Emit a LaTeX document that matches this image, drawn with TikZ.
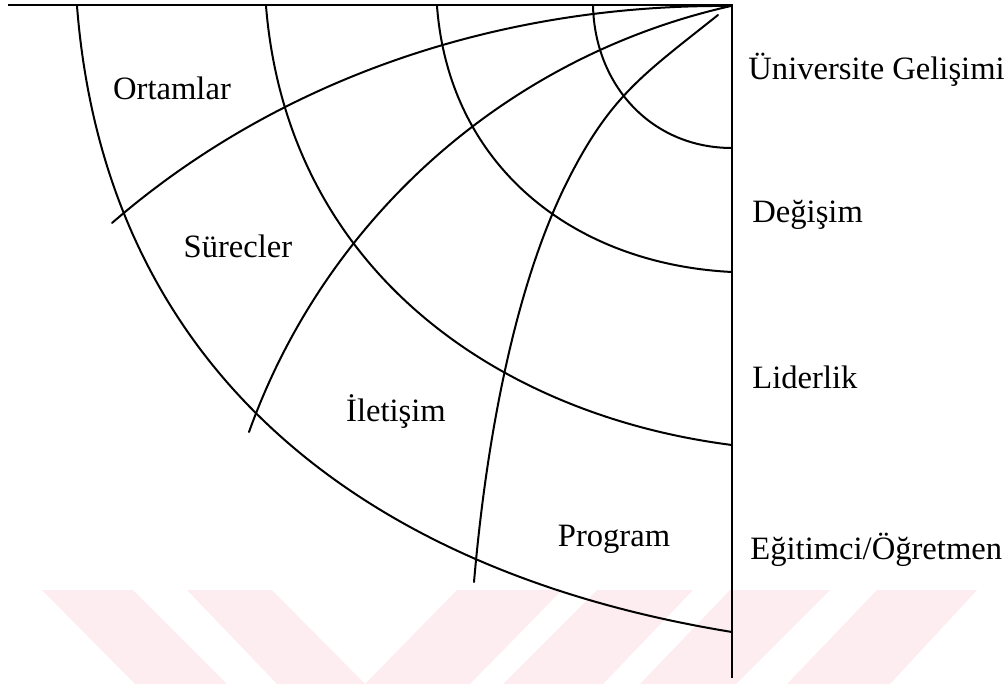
\documentclass[tikz,border=0pt]{standalone}
\usepackage{fontspec}
\setmainfont{Liberation Serif}
\definecolor{wmpink}{RGB}{253,236,240}
\begin{document}
\begin{tikzpicture}[x=0.5pt,y=-0.5pt]
\useasboundingbox (0,0) rectangle (1004,684);
\tikzstyle{stripe} = [fill=wmpink,draw=none]
\tikzstyle{ringline} = [line width=1pt,line cap=round]
\tikzstyle{spokeline} = [line width=1pt,line cap=round]
\tikzstyle{frameline} = [line width=1.3pt]
\tikzstyle{sectortext} = [anchor=base,inner sep=0pt,font=\fontsize{16.3pt}{19pt}\selectfont]
\tikzstyle{sidetext} = [anchor=base west,inner sep=0pt,font=\fontsize{16.3pt}{19pt}\selectfont]
%%%%%%%%%%%%%%%%%%%%%%%%%%%%%
% pink bands at the bottom
%%%%%%%%%%%%%%%%%%%%%%%%%%%%%
\fill[stripe] (42,590) -- (133,590) -- (227,684) -- (135,684) -- cycle;
\fill[stripe] (187,590) -- (272,590) -- (365,684) -- (277,684) -- cycle;
\fill[stripe] (457,590) -- (562,590) -- (470,684) -- (365,684) -- cycle;
\fill[stripe] (597,590) -- (693,590) -- (603,684) -- (503,684) -- cycle;
\fill[stripe] (730,590) -- (830,590) -- (736,684) -- (640,684) -- cycle;
\fill[stripe] (877,590) -- (977,590) -- (890,684) -- (787,684) -- cycle;
%%%%%%%%%%%%%%%%%%%%%%%%%%%%%
% frame: top edge and right axis
%%%%%%%%%%%%%%%%%%%%%%%%%%%%%
\coordinate (o) at (732,5);
\coordinate (left) at (8,5);
\coordinate (bottom) at (732,678);
\draw[frameline] (left) -- (o) -- (bottom);
%%%%%%%%%%%%%%%%%%%%%%%%%%%%%
% rings, inner to outer
%%%%%%%%%%%%%%%%%%%%%%%%%%%%%
\draw[ringline] (593,6) .. controls (595,86) and (652,148) .. (732,148);
\draw[ringline] (437,6) .. controls (449,166) and (573,264) .. (732,272);
\draw[ringline] (266,6) .. controls (288,275) and (504,416) .. (732,445);
\draw[ringline] (77,6) .. controls (105,365) and (357,571) .. (732,632);
%%%%%%%%%%%%%%%%%%%%%%%%%%%%%
% spokes from the corner
%%%%%%%%%%%%%%%%%%%%%%%%%%%%%
\draw[spokeline] (731,6) .. controls (505,4) and (283,75) .. (112,223);
\draw[spokeline] (731,6) .. controls (508,56) and (326,217) .. (249,432);
\draw[spokeline] (718,15) .. controls (644,74) and (611,95) .. (568,180)
  .. controls (514,287) and (486,443) .. (474,582);
%%%%%%%%%%%%%%%%%%%%%%%%%%%%%
% sector names
%%%%%%%%%%%%%%%%%%%%%%%%%%%%%
\node (ortam) [sectortext] at (172,100) {Ortamlar};
\node (surec) [sectortext] at (238,257) {Sürecler};
\node (ilet) [sectortext] at (396,421) {İletişim};
\node (prog) [sectortext] at (614,546) {Program};
%%%%%%%%%%%%%%%%%%%%%%%%%%%%%
% ring names on the right
%%%%%%%%%%%%%%%%%%%%%%%%%%%%%
\node (univ) [sidetext] at (748,80) {Üniversite Gelişimi};
\node (degis) [sidetext] at (752,222) {Değişim};
\node (lider) [sidetext] at (752,388) {Liderlik};
\node (egit) [sidetext] at (750,559) {Eğitimci/Öğretmen};
\end{tikzpicture}
\end{document}
